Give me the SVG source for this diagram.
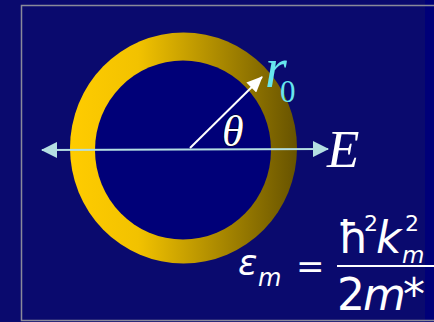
<svg xmlns="http://www.w3.org/2000/svg" width="434" height="322" viewBox="0 0 434 322">
<defs>
<linearGradient id="ring" x1="70" y1="0" x2="297" y2="0" gradientUnits="userSpaceOnUse">
<stop offset="0" stop-color="#ffcc00"/>
<stop offset="0.3" stop-color="#f2c200"/>
<stop offset="1" stop-color="#675300"/>
</linearGradient>
<marker id="ahE" viewBox="0 0 16 16" refX="15" refY="8" markerWidth="16" markerHeight="16" markerUnits="userSpaceOnUse" orient="auto-start-reverse">
<path d="M0,0 L16,8 L0,16 Z" fill="#b4dfe2"/>
</marker>
<marker id="ahR" viewBox="0 0 16 14" refX="15" refY="7" markerWidth="16" markerHeight="14" markerUnits="userSpaceOnUse" orient="auto">
<path d="M0,0 L16,7 L0,14 Z" fill="#ffffff"/>
</marker>
<style>
.serif{font-family:"Liberation Serif","DejaVu Serif",serif;font-style:italic}
.sans{font-family:"DejaVu Sans","Liberation Sans",sans-serif;fill:#ffffff}
.it{font-style:italic}
</style>
</defs>
<rect x="0" y="0" width="434" height="322" fill="#0a0a6e"/>
<rect x="425" y="0" width="9" height="322" fill="#000078"/>
<rect x="21.5" y="5.5" width="420" height="315" fill="none" stroke="#8a8a9a" stroke-width="1.5"/>
<g id="ring-node">
<ellipse cx="183.5" cy="148" rx="113.5" ry="115.5" fill="url(#ring)"/>
<ellipse cx="183" cy="150" rx="88" ry="89.5" fill="#000078"/>
</g>
<g id="connectors">
<line x1="42" y1="150" x2="328" y2="149" stroke="#b4dfe2" stroke-width="2" marker-start="url(#ahE)" marker-end="url(#ahE)"/>
<line x1="190" y1="148" x2="262" y2="77" stroke="#ffffff" stroke-width="2" marker-end="url(#ahR)"/>
</g>
<g id="labels">
<text x="222" y="146" class="serif" font-size="44" fill="#ffffff" stroke="#000000" stroke-width="1.2" paint-order="stroke">θ</text>
<text x="265" y="87" class="serif" font-size="56" fill="#66e6ee">r</text>
<text x="280" y="102" font-family="Liberation Serif, serif" font-size="31" fill="#66e6ee">0</text>
<text x="327" y="167" class="serif" font-size="53" fill="#ffffff">E</text>
</g>
<g id="formula">
<text x="238" y="275" class="sans it" font-size="36">ε</text>
<text x="258" y="286" class="sans it" font-size="24">m</text>
<text x="296" y="278" class="sans" font-size="34">=</text>
<text x="338" y="253" class="sans" font-size="44">ħ</text>
<text x="364" y="231" class="sans" font-size="22">2</text>
<text x="376" y="253" class="sans it" font-size="44">k</text>
<text x="402" y="263" class="sans it" font-size="23">m</text>
<text x="405" y="231" class="sans" font-size="22">2</text>
<line x1="337" y1="266" x2="434" y2="266" stroke="#ffffff" stroke-width="2"/>
<text x="337" y="310" class="sans" font-size="44">2</text>
<text x="363" y="310" class="sans it" font-size="44">m</text>
<text x="403" y="310" class="sans" font-size="44">*</text>
</g>
</svg>
